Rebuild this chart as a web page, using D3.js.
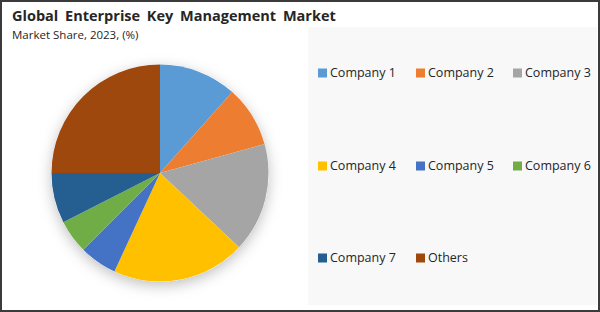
<!DOCTYPE html>
<html>
<head>
<meta charset="utf-8">
<script src="https://cdn.jsdelivr.net/npm/d3@7"></script>
<style>
  body { margin: 0; background: #fff; }
  svg { display: block; font-family: "Open Sans", sans-serif; }
</style>
</head>
<body>
<svg id="chart" width="600" height="312"></svg>
<script>
// data
var companies = ["Company 1", "Company 2", "Company 3", "Company 4", "Company 5", "Company 6", "Company 7", "Others"];
var shares = [11.6, 9.1, 16.3, 19.9, 5.6, 5.0, 7.5, 25.0];
var colours = ["#5B9BD5", "#ED7D31", "#A5A5A5", "#FFC000", "#4472C4", "#70AD47", "#255E91", "#9E480E"];

var svg = d3.select("#chart");

// outer frame
svg.append("rect")
	.attr("x", 1).attr("y", 1)
	.attr("width", 598).attr("height", 310)
	.attr("fill", "#fff")
	.attr("stroke", "#3b3b3b")
	.attr("stroke-width", 2);

svg.append("text")
	.attr("x", 12).attr("y", 21)
	.attr("font-size", 14.5)
	.attr("font-weight", "bold")
	.attr("word-spacing", 3)
	.attr("fill", "#262626")
	.text("Global Enterprise Key Management Market");

svg.append("text")
	.attr("x", 12).attr("y", 38.5)
	.attr("font-size", 11.5)
	.attr("fill", "#262626")
	.text("Market Share, 2023, (%)");

// legend panel
svg.append("rect")
	.attr("x", 308).attr("y", 27)
	.attr("width", 289).attr("height", 278)
	.attr("fill", "#f8f8f8");

// shadow under pie
var defs = svg.append("defs");
var f = defs.append("filter").attr("id", "shadow")
	.attr("x", "-30%").attr("y", "-30%").attr("width", "160%").attr("height", "160%");
f.append("feDropShadow")
	.attr("dx", 0).attr("dy", 4)
	.attr("stdDeviation", 7)
	.attr("flood-color", "#000")
	.attr("flood-opacity", 0.25);

var cx = 160, cy = 173, r = 108.5;

var pie = d3.pie().sort(null).value(d => d)(shares);
var arc = d3.arc().innerRadius(0).outerRadius(r);

var g = svg.append("g")
	.attr("transform", `translate(${cx},${cy})`);

g.append("circle").attr("r", r).attr("fill", "#fff").attr("filter", "url(#shadow)");

g.selectAll("path")
	.data(pie)
	.enter().append("path")
	.attr("d", arc)
	.attr("fill", (d, i) => colours[i]);

// legend: 3 columns
var colX = [318, 416, 513];
var rowY = [73, 166, 258];

var items = svg.append("g").selectAll("g")
	.data(companies)
	.enter().append("g")
	.attr("transform", (d, i) => `translate(${colX[i % 3]},${rowY[Math.floor(i / 3)]})`);

items.append("rect")
	.attr("x", 0).attr("y", -4.5)
	.attr("width", 9).attr("height", 9)
	.attr("fill", (d, i) => colours[i]);

items.append("text")
	.attr("x", 12).attr("y", 0)
	.attr("dy", "0.35em")
	.attr("font-size", 12.5)
	.attr("fill", "#262626")
	.text(d => d);
</script>
</body>
</html>
